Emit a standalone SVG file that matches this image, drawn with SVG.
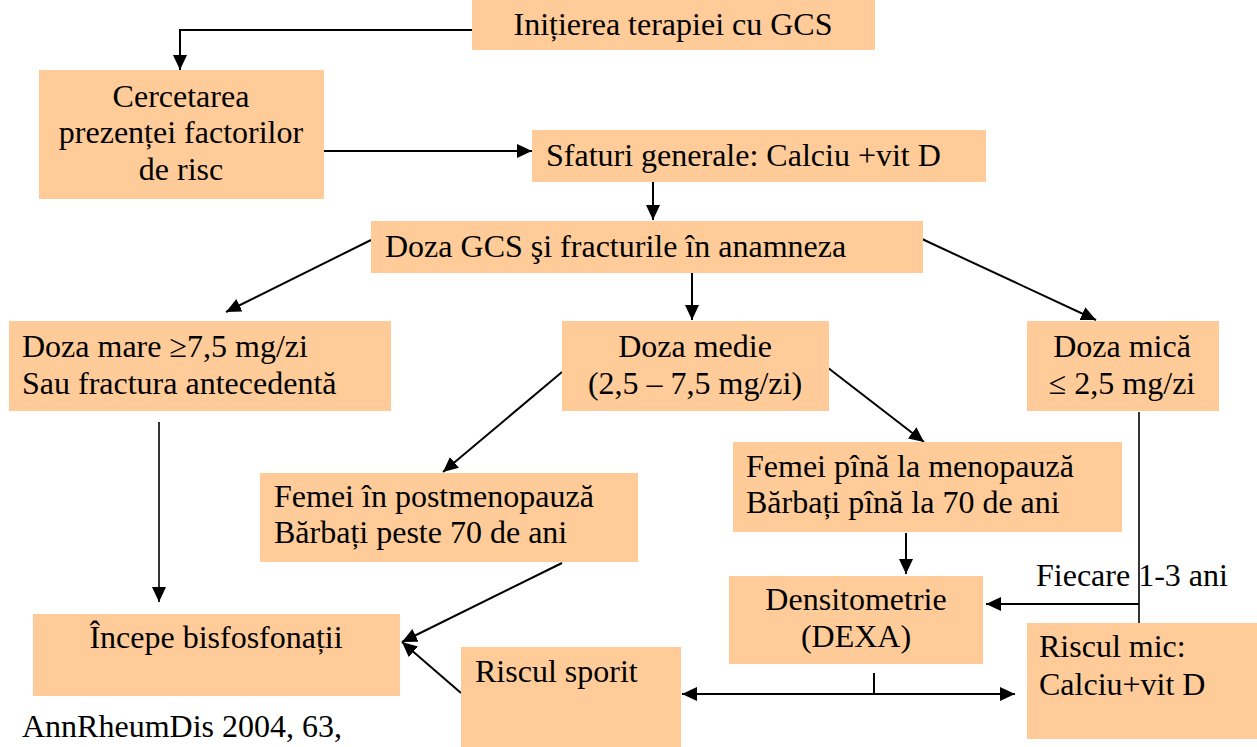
<svg xmlns="http://www.w3.org/2000/svg" width="1257" height="747" viewBox="0 0 1257 747" font-family="'Liberation Serif', 'Times New Roman', serif">
<style>
.box{fill:#FFCC99;stroke:none}
text,.t{font-family:"Liberation Serif","Times New Roman",serif;font-size:32px;fill:#000}
.c{text-anchor:middle}
.ln{stroke:#000;stroke-width:2;fill:none}
.thin{stroke-width:1.6}
.a{marker-end:url(#ah)}
</style>
<defs>
<marker id="ah" viewBox="0 0 15 14" refX="15" refY="7" markerWidth="15" markerHeight="14" markerUnits="userSpaceOnUse" orient="auto-start-reverse">
<path d="M0,0 L15,7 L0,14 z" fill="#000"/>
</marker>
</defs>
<rect width="1257" height="747" fill="#fff"/>
<g id="connectors">
<polyline class="ln a" points="472,30 180,30 180,70"/>
<line class="ln a" x1="324" y1="151" x2="532" y2="151"/>
<line class="ln a" x1="653" y1="182" x2="653" y2="220"/>
<line class="ln a" x1="371" y1="240" x2="226" y2="312"/>
<line class="ln a" x1="692" y1="273" x2="692" y2="320"/>
<line class="ln a" x1="922" y1="239" x2="1096" y2="320"/>
<line class="ln a" x1="562" y1="372" x2="443" y2="472"/>
<line class="ln a" x1="823" y1="364" x2="924" y2="442"/>
<line class="ln thin a" x1="159" y1="422" x2="159" y2="602"/>
<line class="ln a" x1="562" y1="563" x2="402" y2="642"/>
<line class="ln a" x1="461" y1="693" x2="402" y2="642"/>
<line class="ln a" x1="906" y1="533" x2="906" y2="574"/>
<line class="ln thin" x1="1139" y1="412" x2="1139" y2="623"/>
<line class="ln a" x1="1139" y1="604" x2="986" y2="604"/>
<line class="ln" x1="874" y1="673" x2="874" y2="694"/>
<line class="ln a" x1="682" y1="694" x2="1015" y2="694" style="marker-start:url(#ah)"/>
</g>
<g id="n1"><rect class="box" x="472" y="0" width="403" height="50"/><text class="t c" x="673" y="35">Inițierea terapiei cu GCS</text></g>
<g id="n2"><rect class="box" x="39" y="70" width="285" height="129"/><text class="t c" x="181" y="107">Cercetarea</text><text class="t c" x="181" y="143">prezenței factorilor</text><text class="t c" x="181" y="180">de risc</text></g>
<g id="n3"><rect class="box" x="532" y="130" width="454" height="52"/><text class="t" x="546" y="166">Sfaturi generale: Calciu +vit D</text></g>
<g id="n4"><rect class="box" x="371" y="221" width="552" height="52"/><text class="t" x="385" y="257">Doza GCS şi fracturile în anamneza</text></g>
<g id="n5"><rect class="box" x="9" y="321" width="382" height="90"/><text class="t" x="22" y="357">Doza mare ≥7,5 mg/zi</text><text class="t" x="22" y="394">Sau fractura antecedentă</text></g>
<g id="n6"><rect class="box" x="562" y="321" width="267" height="90"/><text class="t c" x="695" y="357">Doza medie</text><text class="t c" x="695" y="394">(2,5 – 7,5 mg/zi)</text></g>
<g id="n7"><rect class="box" x="1027" y="321" width="192" height="90"/><text class="t c" x="1122" y="357">Doza mică</text><text class="t c" x="1122" y="394">≤ 2,5 mg/zi</text></g>
<g id="n8"><rect class="box" x="733" y="442" width="389" height="90"/><text class="t" x="746" y="477">Femei pînă la menopauză</text><text class="t" x="746" y="513">Bărbați pînă la 70 de ani</text></g>
<g id="n9"><rect class="box" x="260" y="473" width="378" height="89"/><text class="t" x="274" y="507">Femei în postmenopauză</text><text class="t" x="274" y="543">Bărbați peste 70 de ani</text></g>
<g id="n10"><rect class="box" x="33" y="614" width="367" height="82"/><text class="t c" x="216" y="648">Începe bisfosfonații</text></g>
<g id="n11"><rect class="box" x="461" y="647" width="220" height="100"/><text class="t" x="475" y="682">Riscul sporit</text></g>
<g id="n12"><rect class="box" x="729" y="576" width="254" height="88"/><text class="t c" x="856" y="610">Densitometrie</text><text class="t c" x="856" y="647">(DEXA)</text></g>
<g id="n13"><rect class="box" x="1027" y="623" width="230" height="116"/><text class="t" x="1039" y="657">Riscul mic:</text><text class="t" x="1039" y="695">Calciu+vit D</text></g>
<text class="t" x="1036" y="586">Fiecare 1-3 ani</text>
<text class="t" x="22" y="737">AnnRheumDis 2004, 63,</text>
</svg>
